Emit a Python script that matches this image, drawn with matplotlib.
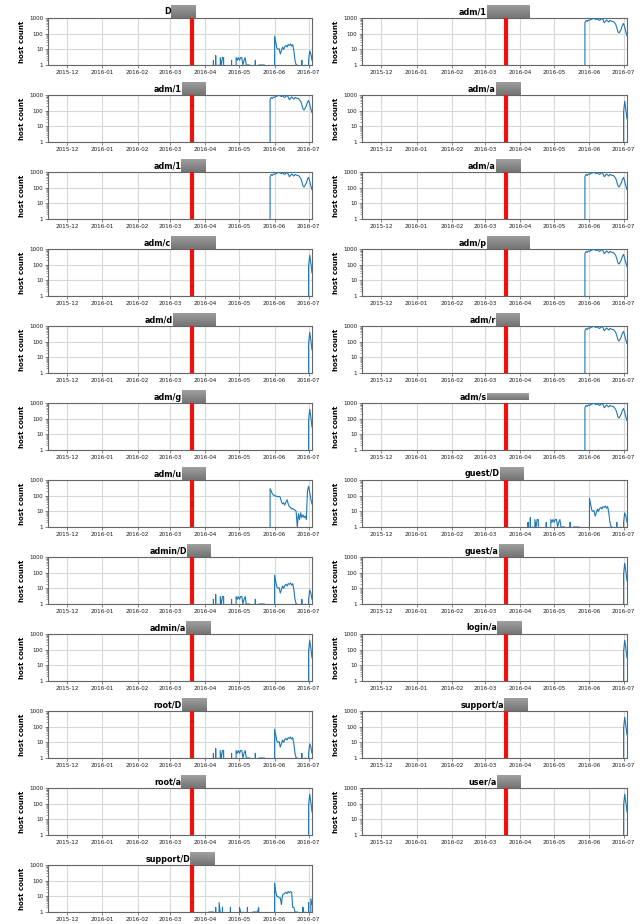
import numpy as np
import pandas as pd
import matplotlib
matplotlib.use("Agg")
import matplotlib.pyplot as plt
import matplotlib.dates as mdates
from matplotlib.ticker import NullFormatter

# daily host counts; days before the start date have no hosts (0)
sparse_start = "2016-04-01"
sparse_counts = [0, 0, 0, 0, 0, 0, 0, 2, 0, 4, 0, 1, 0, 3, 1, 3, 3, 0, 0, 0,
                 0, 0, 0, 2, 0, 0, 0, 3, 2, 3,
                 2, 3, 3, 1, 2, 3, 1, 1, 1, 1, 0, 0, 0, 0, 2, 0, 0, 1, 1, 1,
                 1, 1, 1, 0, 0, 0, 0, 0, 0, 0, 0,
                 70, 30, 12, 10, 11, 5, 8, 14, 10, 15, 18, 14, 20, 18, 22, 16, 20, 8, 2, 1,
                 1, 0, 0, 0, 2, 0, 0, 1, 0, 0,
                 2, 8, 5, 2]

support_start = "2016-04-01"
support_counts = [0, 0, 0, 1, 1, 1, 1, 1, 0, 2, 0, 0, 4, 1, 0, 2, 0, 0, 0, 0,
                  0, 0, 2, 0, 0, 0, 0, 0, 0, 0,
                  2, 1, 0, 1, 0, 0, 0, 2, 0, 0, 0, 0, 1, 1, 1, 1, 1, 2, 0, 0,
                  0, 0, 0, 0, 0, 0, 0, 0, 0, 0, 0,
                  70, 20, 10, 10, 8, 8, 3, 12, 14, 16, 18, 15, 20, 17, 20, 18, 2, 2, 1, 1,
                  1, 0, 0, 0, 0, 2, 0, 1, 0, 0,
                  4, 0, 7, 3]

plateau_start = "2016-05-27"
plateau_counts = [0, 500, 700, 600, 750,
                  700, 800, 850, 900, 950, 850, 800, 900, 750, 700, 850, 900, 750, 500, 600,
                  750, 650, 550, 700, 650, 600, 600, 500, 400, 250, 130, 110, 150, 200, 350,
                  450, 250, 130, 75]

admu_start = "2016-05-27"
admu_counts = [0, 280, 200, 130, 110,
               100, 95, 90, 85, 90, 80, 40, 30, 35, 25, 40, 55, 30, 20, 18,
               14, 15, 13, 12, 10, 1, 7, 3, 8, 4, 6, 4, 5, 3, 200,
               400, 150, 60, 30]

spike_start = "2016-06-30"
spike_counts = [0, 80, 400, 120, 30]

series = {
    "sparse": (sparse_start, sparse_counts),
    "support": (support_start, support_counts),
    "plateau": (plateau_start, plateau_counts),
    "admu": (admu_start, admu_counts),
    "spike": (spike_start, spike_counts),
}

# visible part of each title, width of the redaction box (px), series
left_titles = ["D", "adm/1", "adm/1", "adm/c", "adm/d", "adm/g", "adm/u",
               "admin/D", "admin/a", "root/D", "root/a", "support/D"]
left_boxes = [25, 24, 25, 45, 43, 24, 24, 24, 25, 25, 25, 25]
left_series = ["sparse", "plateau", "plateau", "spike", "spike", "spike", "admu",
               "sparse", "spike", "sparse", "spike", "support"]

right_titles = ["adm/1", "adm/a", "adm/a", "adm/p", "adm/r", "adm/s", "guest/D",
                "guest/a", "login/a", "support/a", "user/a"]
right_boxes = [43, 25, 25, 43, 24, 42, 24, 25, 25, 24, 24]
right_series = ["plateau", "spike", "plateau", "plateau", "plateau", "plateau", "sparse",
                "spike", "spike", "spike", "spike"]

x_start = pd.Timestamp("2015-11-14")
x_end = pd.Timestamp("2016-07-04")
event_date = pd.Timestamp("2016-03-20")
days = pd.date_range(x_start, x_end, freq="D")

W, H = 644.0, 924.0
fig = plt.figure(figsize=(W / 100, H / 100), dpi=100)
renderer = fig.canvas.get_renderer()


def full_series(key):
    start, counts = series[key]
    vals = pd.Series(0.0, index=days)
    idx = pd.date_range(start, periods=len(counts), freq="D")
    vals.loc[idx] = counts
    return vals


def panel(x0, width, top, title, box_w, key):
    ax = fig.add_axes([x0 / W, 1 - (top + 47) / H, width / W, 47 / H])
    vals = full_series(key)
    ax.plot(vals.index, vals.values, color="#1f77b4", lw=0.8, zorder=3)
    ax.axvline(event_date, color="#ee1111", lw=3, zorder=4)
    ax.set_yscale("log")
    ax.set_ylim(1, 1000)
    ax.set_xlim(x_start, x_end)
    ax.set_yticks([1, 10, 100, 1000])
    ax.set_yticklabels(["1", "10", "100", "1000"])
    ax.yaxis.set_minor_formatter(NullFormatter())
    ax.xaxis.set_major_locator(mdates.MonthLocator())
    ax.xaxis.set_major_formatter(mdates.DateFormatter("%Y-%m"))
    ax.grid(True, which="major", color="#d8d8d8", lw=0.8)
    ax.set_axisbelow(True)
    ax.tick_params(labelsize=4.1, length=2, width=0.5, pad=1.5, colors="#555555",
                   labelcolor="#1a1a1a")
    ax.tick_params(which="minor", length=1.2, width=0.4, colors="#555555")
    for sp in ax.spines.values():
        sp.set_color("#666666")
        sp.set_linewidth(0.8)
    ax.set_ylabel("host count", fontsize=5, fontweight="bold", labelpad=3)

    # title: visible prefix followed by a grey box over the rest
    cx = x0 + width / 2
    t = fig.text(0, 0, title, fontsize=5.8, fontweight="bold", ha="left", va="center")
    tw = t.get_window_extent(renderer).width
    left = cx - (tw + box_w) / 2
    t.set_position((left / W, 1 - (top - 6) / H))
    bh = 13
    btop = top - 13
    if title == "adm/s":
        bh = 7
        btop = top - 10
    bax = fig.add_axes([(left + tw) / W, 1 - (btop + bh) / H, box_w / W, bh / H])
    grad = np.linspace(0.62, 0.46, 12).reshape(-1, 1)
    bax.imshow(grad, aspect="auto", cmap="gray", vmin=0, vmax=1)
    bax.set_axis_off()


for i in range(len(left_titles)):
    panel(48, 264, 18 + 77 * i, left_titles[i], left_boxes[i], left_series[i])

for i in range(len(right_titles)):
    panel(362, 265, 18 + 77 * i, right_titles[i], right_boxes[i], right_series[i])

fig.savefig("out.png", dpi=100)
